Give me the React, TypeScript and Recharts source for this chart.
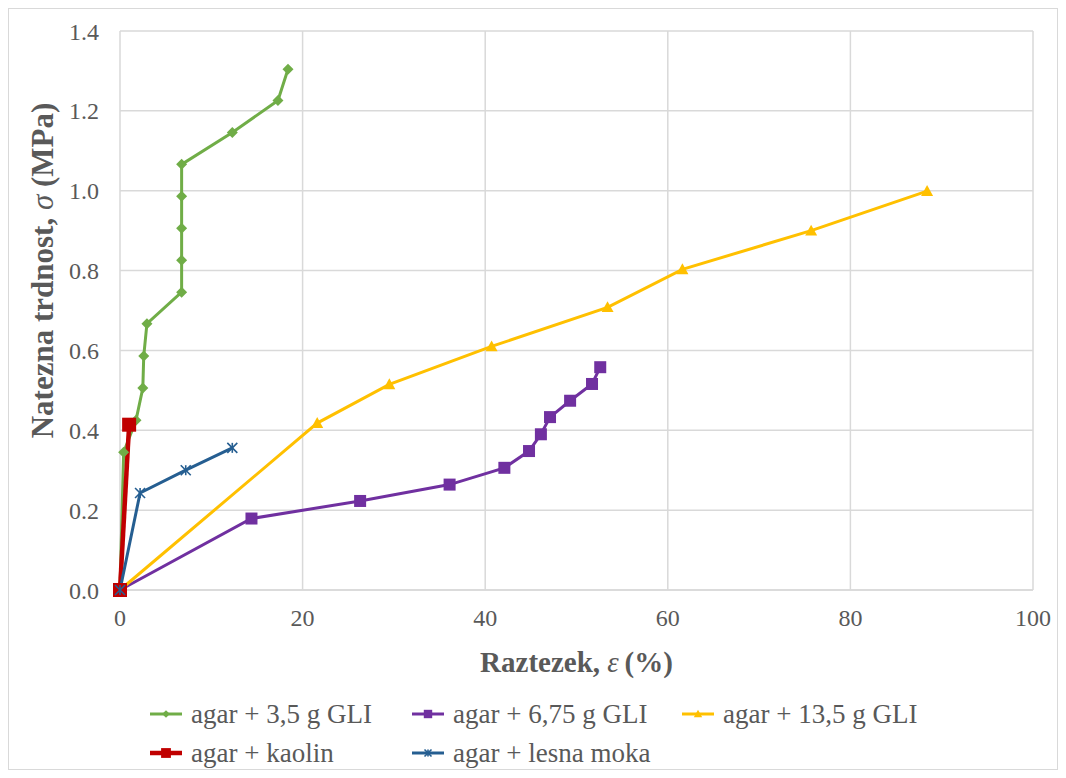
import React from "react";
import { LineChart, Line, XAxis, YAxis, CartesianGrid } from "recharts";

// strain (%) / tensile strength (MPa)
const gli35X = [0, 0.4, 1.75, 2.5, 2.6, 2.95, 6.75, 6.75, 6.75, 6.75, 6.75, 12.3, 17.3, 18.4];
const gli35Y = [0, 0.345, 0.425, 0.506, 0.586, 0.667, 0.746, 0.826, 0.906, 0.986, 1.066, 1.146, 1.226, 1.304];

const gli675X = [0, 14.4, 26.3, 36.1, 42.1, 44.8, 46.1, 47.1, 49.3, 51.7, 52.6];
const gli675Y = [0, 0.179, 0.223, 0.264, 0.306, 0.348, 0.39, 0.433, 0.474, 0.516, 0.558];

const gli135X = [0, 21.6, 29.5, 40.7, 53.4, 61.6, 75.7, 88.4];
const gli135Y = [0, 0.418, 0.515, 0.61, 0.708, 0.803, 0.9, 0.999];

const kaolinX = [0, 1.0];
const kaolinY = [0, 0.414];

const mokaX = [0, 2.2, 7.2, 12.3];
const mokaY = [0, 0.243, 0.3, 0.356];

const xTicks = [0, 20, 40, 60, 80, 100];
const yTicks = [0, 0.2, 0.4, 0.6, 0.8, 1.0, 1.2, 1.4];

const FONT = '"Liberation Serif", "Times New Roman", serif';
const TEXT = "#595959";

const pts = (xs: number[], ys: number[]) => xs.map((x, i) => ({ x, y: ys[i] }));

type Shape = "diamond" | "square" | "triangle" | "star";

function Marker({ cx, cy, shape, color, size }: { cx: number; cy: number; shape: Shape; color: string; size: number }) {
  const h = size / 2;
  if (shape === "diamond")
    return <polygon points={`${cx},${cy - h} ${cx + h},${cy} ${cx},${cy + h} ${cx - h},${cy}`} fill={color} />;
  if (shape === "square")
    return <rect x={cx - h} y={cy - h} width={size} height={size} fill={color} />;
  if (shape === "triangle")
    return <polygon points={`${cx},${cy - h} ${cx + h},${cy + h * 0.8} ${cx - h},${cy + h * 0.8}`} fill={color} />;
  return (
    <g stroke={color} strokeWidth={1.6}>
      <line x1={cx - h} y1={cy - h} x2={cx + h} y2={cy + h} />
      <line x1={cx - h} y1={cy + h} x2={cx + h} y2={cy - h} />
      <line x1={cx} y1={cy - h} x2={cx} y2={cy + h} />
    </g>
  );
}

const series = [
  { name: "agar + 3,5 g GLI", data: pts(gli35X, gli35Y), color: "#70ad47", shape: "diamond" as Shape, size: 11, width: 3 },
  { name: "agar + 6,75 g GLI", data: pts(gli675X, gli675Y), color: "#7030a0", shape: "square" as Shape, size: 12, width: 3 },
  { name: "agar + 13,5 g GLI", data: pts(gli135X, gli135Y), color: "#ffc000", shape: "triangle" as Shape, size: 12, width: 3 },
  { name: "agar + kaolin", data: pts(kaolinX, kaolinY), color: "#c00000", shape: "square" as Shape, size: 14, width: 4.5 },
  { name: "agar + lesna moka", data: pts(mokaX, mokaY), color: "#255e91", shape: "star" as Shape, size: 10, width: 3 },
];

const YTitle = (props: any) => {
  const vb = props.viewBox;
  const x = vb.x + 12;
  const y = vb.y + vb.height / 2 - 40;
  return (
    <text x={x} y={y} transform={`rotate(-90 ${x} ${y})`} textAnchor="middle" dominantBaseline="central"
      fontFamily={FONT} fontSize={31} fontWeight="bold" fill={TEXT}>
      Natezna trdnost, <tspan fontStyle="italic" fontWeight="normal">σ</tspan> (MPa)
    </text>
  );
};

const XTitle = (props: any) => {
  const vb = props.viewBox;
  return (
    <text x={vb.x + vb.width / 2} y={vb.y + 72} textAnchor="middle" dominantBaseline="central"
      fontFamily={FONT} fontSize={29} fontWeight="bold" fill={TEXT}>
      Raztezek,  <tspan fontStyle="italic" fontWeight="normal">ε</tspan>{"\u2009"}(%)
    </text>
  );
};

const legendRows = [
  [series[0], series[1], series[2]],
  [series[3], series[4]],
];
const legendLefts = [142, 404, 674];

export default function App() {
  return (
    <div style={{ position: "relative", width: 1050, height: 762, fontFamily: FONT }}>
      <div style={{ position: "absolute", inset: 0, border: "1px solid #d9d9d9", pointerEvents: "none" }} />
      <LineChart width={1050} height={700} margin={{ top: 23, right: 25, bottom: 28, left: 22 }}>
        <CartesianGrid stroke="#d9d9d9" strokeWidth={1.5} />
        <XAxis
          type="number"
          dataKey="x"
          domain={[0, 100]}
          ticks={xTicks}
          height={90}
          tickSize={0}
          tickMargin={19}
          axisLine={{ stroke: "#d9d9d9", strokeWidth: 1.5 }}
          tick={{ fill: TEXT, fontSize: 24, fontFamily: FONT }}
          label={<XTitle />}
        />
        <YAxis
          type="number"
          dataKey="y"
          domain={[0, 1.4]}
          ticks={yTicks}
          width={90}
          tickSize={0}
          tickMargin={21}
          axisLine={false}
          tickFormatter={(v: number) => v.toFixed(1)}
          tick={{ fill: TEXT, fontSize: 24, fontFamily: FONT }}
          label={<YTitle />}
        />
        {series.map((s) => (
          <Line
            key={s.name}
            data={s.data}
            dataKey="y"
            name={s.name}
            stroke={s.color}
            strokeWidth={s.width}
            isAnimationActive={false}
            dot={(p: any) => <Marker key={p.index} cx={p.cx} cy={p.cy} shape={s.shape} color={s.color} size={s.size} />}
            activeDot={false}
          />
        ))}
      </LineChart>
      {legendRows.map((row, r) => (
        <div key={r}>
          {row.map((s, i) => (
            <div key={s.name} style={{ position: "absolute", left: legendLefts[i], top: 692 + r * 39, height: 28, display: "flex", alignItems: "center", fontSize: 27, color: TEXT, whiteSpace: "nowrap" }}>
              <svg width={32} height={20} style={{ marginRight: 9 }}>
                <line x1={0} y1={10} x2={32} y2={10} stroke={s.color} strokeWidth={s.width} />
                <Marker cx={16} cy={10} shape={s.shape} color={s.color} size={s.size * 0.7} />
              </svg>
              {s.name}
            </div>
          ))}
        </div>
      ))}
    </div>
  );
}
